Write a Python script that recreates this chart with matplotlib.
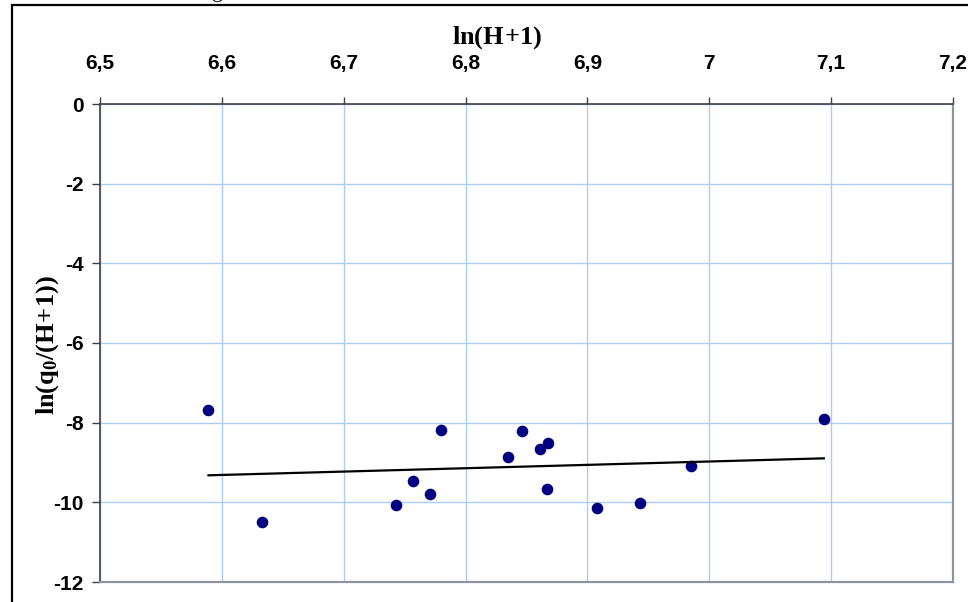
import numpy as np
import matplotlib
matplotlib.use("Agg")
import matplotlib.pyplot as plt
from matplotlib.patches import Rectangle
from matplotlib.ticker import FuncFormatter

# Observations: ln(H+1) against ln(q0/(H+1))
ln_h = [6.589, 6.633, 6.743, 6.757, 6.771, 6.780, 6.835, 6.846,
        6.861, 6.868, 6.867, 6.908, 6.943, 6.985, 7.094]
ln_q = [-7.69, -10.49, -10.06, -9.46, -9.79, -8.18, -8.86, -8.20,
        -8.67, -8.50, -9.67, -10.14, -10.02, -9.10, -7.92]

x_ticks = [6.5, 6.6, 6.7, 6.8, 6.9, 7.0, 7.1, 7.2]
y_ticks = [0, -2, -4, -6, -8, -10, -12]

plt.rcParams["mathtext.fontset"] = "custom"
plt.rcParams["mathtext.rm"] = "Liberation Serif:bold"
plt.rcParams["mathtext.it"] = "Liberation Serif:bold"
plt.rcParams["mathtext.bf"] = "Liberation Serif:bold"

W, H = 968, 602
fig = plt.figure(figsize=(W / 100, H / 100), dpi=100)
fig.patch.set_facecolor("white")

# plot area in pixel terms
left, right, top, bottom = 100, 953, 104, 582
ax = fig.add_axes([left / W, 1 - bottom / H, (right - left) / W, (bottom - top) / H])

ax.set_xlim(x_ticks[0], x_ticks[-1])
ax.set_ylim(y_ticks[-1], y_ticks[0])
ax.set_xticks(x_ticks)
ax.set_yticks(y_ticks)

comma = FuncFormatter(lambda v, p: f"{v:g}".replace(".", ","))
ax.xaxis.set_major_formatter(comma)
ax.yaxis.set_major_formatter(FuncFormatter(lambda v, p: f"{int(round(v))}"))

ax.xaxis.tick_top()
ax.tick_params(axis="x", which="both", top=True, bottom=False, direction="out",
               length=5, width=1, color="#404040", pad=17)
ax.tick_params(axis="y", direction="out", length=5.8, width=1, color="#404040", pad=6)
for lab in ax.get_xticklabels() + ax.get_yticklabels():
    lab.set_fontfamily("Liberation Sans")
    lab.set_fontweight("bold")
    lab.set_fontsize(15)

ax.grid(True, color="#a9cdf7", linewidth=1)
ax.set_axisbelow(True)

ax.spines["top"].set_color("#404040")
ax.spines["left"].set_color("#404040")
ax.spines["top"].set_linewidth(1.2)
ax.spines["left"].set_linewidth(1.2)
ax.spines["bottom"].set_color("#8c949e")
ax.spines["right"].set_color("#8c949e")
ax.spines["bottom"].set_linewidth(1.6)
ax.spines["right"].set_linewidth(1.6)

# data points
ax.scatter(ln_h, ln_q, s=70, color="#000080", zorder=3, linewidths=0)

# least-squares trend line over the data range
slope, intercept = np.polyfit(ln_h, ln_q, 1)
xs = np.array([min(ln_h), max(ln_h)])
ax.plot(xs, slope * xs + intercept, color="black", linewidth=1.6, zorder=4)

# axis titles
fig.text(497 / W, 1 - 44 / H, r"$\mathrm{ln(H\!+\!1)}$", ha="center", va="baseline",
         fontsize=19)
fig.text(48 / W, 1 - 345 / H, r"$\mathrm{ln(q_0/(H\!+\!1))}$", ha="center", va="center",
         rotation=90, fontsize=19)

# caption fragment above the frame
fig.text(218 / W, 1 + 3 / H, "g", family="Liberation Serif", fontsize=16,
         ha="center", va="baseline")

# outer frame
fig.add_artist(Rectangle((12 / W, -0.1), 1.2, 1.1 - 5 / H, transform=fig.transFigure,
                         fill=False, edgecolor="black", linewidth=1.6, clip_on=False))

fig.savefig("out.png", dpi=100, facecolor="white")
